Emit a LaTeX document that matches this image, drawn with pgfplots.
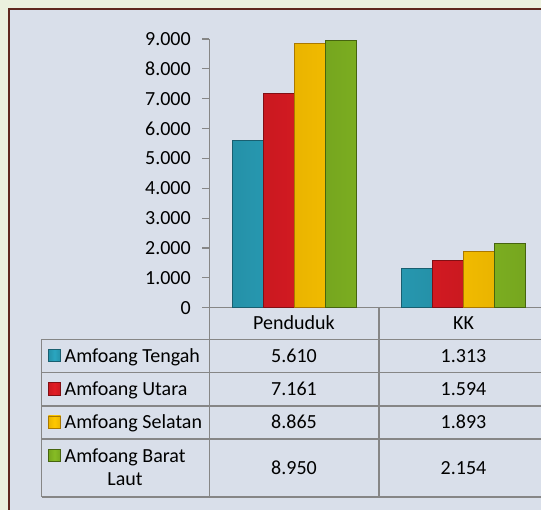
\documentclass[border=0pt]{standalone}
\usepackage{fontspec}
\setmainfont{Carlito}
\usepackage{pgfplots}
\pgfplotsset{compat=1.18}
\definecolor{outerbg}{RGB}{235,241,222}
\definecolor{innerbg}{RGB}{217,223,234}
\definecolor{framebrown}{RGB}{95,40,30}
\definecolor{axisgray}{RGB}{134,134,134}
\definecolor{cblue}{RGB}{42,166,192}
\definecolor{cbluedark}{RGB}{25,95,112}
\definecolor{cred}{RGB}{226,28,36}
\definecolor{creddark}{RGB}{130,15,20}
\definecolor{cyellow}{RGB}{255,200,0}
\definecolor{cyellowdark}{RGB}{170,120,0}
\definecolor{cgreen}{RGB}{134,188,36}
\definecolor{cgreendark}{RGB}{70,100,15}
\newcommand{\tf}{\fontsize{20}{24}\selectfont}
\begin{document}
\begin{tikzpicture}[x=1pt,y=1pt]
\useasboundingbox (0,0) rectangle (541,510);
\clip (0,0) rectangle (541,510);
\fill[outerbg] (0,0) rectangle (541,510);
\draw[draw=framebrown, line width=2pt, fill=innerbg] (9,-20) rectangle (580,500.5);
\begin{axis}[
  at={(209.3pt,202.3pt)}, anchor=south west,
  scale only axis, width=339pt, height=268.7pt,
  xmin=-0.5, xmax=1.5, ymin=0, ymax=9000,
  ybar=0pt, bar width=31pt,
  axis x line=bottom, axis y line=left,
  axis line style={-, draw=axisgray, line width=1.2pt},
  xtick=\empty,
  ytick={0,1000,...,9000},
  tick align=outside, major tick length=7pt,
  tick style={draw=axisgray, line width=1.2pt},
  scaled y ticks=false,
  /pgf/number format/1000 sep={.},
  /pgf/number format/assume math mode=true,
  yticklabel style={font=\tf, text=black, xshift=-8pt},
  clip=false,
]
\addplot[left color=cbluedark!30!cblue, right color=cbluedark!30!cblue, middle color=cblue, draw=cbluedark, line width=0.8pt] coordinates {(0,5610) (1,1313)};
\addplot[left color=creddark!25!cred, right color=creddark!25!cred, middle color=cred, draw=creddark, line width=0.8pt] coordinates {(0,7161) (1,1594)};
\addplot[left color=cyellowdark!25!cyellow, right color=cyellowdark!25!cyellow, middle color=cyellow, draw=cyellowdark, line width=0.8pt] coordinates {(0,8865) (1,1893)};
\addplot[left color=cgreendark!25!cgreen, right color=cgreendark!25!cgreen, middle color=cgreen, draw=cgreendark, line width=0.8pt] coordinates {(0,8950) (1,2154)};
\end{axis}
% data table grid
\begin{scope}[draw=axisgray, line width=1.5pt]
\draw (209.3,202.3) -- (209.3,13);
\draw (378.8,202.3) -- (378.8,13);
\draw (548.3,202.3) -- (548.3,13);
\draw (41.5,170.7) -- (560,170.7);
\draw (41.5,137.7) -- (560,137.7);
\draw (41.5,104) -- (560,104);
\draw (41.5,71) -- (560,71);
\draw (41.5,13) -- (560,13);
\draw (41.5,170.7) -- (41.5,13);
\end{scope}
% header
\node[font=\tf, anchor=base, inner sep=0] at (294,180) {Penduduk};
\node[font=\tf, anchor=base, inner sep=0] at (463.5,180) {KK};
% legend keys
\shade[left color=cbluedark!30!cblue, right color=cbluedark!30!cblue, middle color=cblue, draw=cbluedark, line width=0.6pt] (48.3,148.3) rectangle (60.7,160.7);
\shade[left color=creddark!25!cred, right color=creddark!25!cred, middle color=cred, draw=creddark, line width=0.6pt] (48.3,115) rectangle (60.7,127.4);
\shade[left color=cyellowdark!25!cyellow, right color=cyellowdark!25!cyellow, middle color=cyellow, draw=cyellowdark, line width=0.6pt] (48.3,81.6) rectangle (60.7,94);
\shade[left color=cgreendark!25!cgreen, right color=cgreendark!25!cgreen, middle color=cgreen, draw=cgreendark, line width=0.6pt] (48.3,48.3) rectangle (60.7,60.7);
% row labels
\node[font=\tf, anchor=base west, inner sep=0] at (64.5,147.7) {Amfoang Tengah};
\node[font=\tf, anchor=base west, inner sep=0] at (64.5,114.4) {Amfoang Utara};
\node[font=\tf, anchor=base west, inner sep=0] at (64.5,81) {Amfoang Selatan};
\node[font=\tf, anchor=base west, inner sep=0] at (64.5,47.7) {Amfoang Barat};
\node[font=\tf, anchor=base, inner sep=0] at (125,24.3) {Laut};
% values
\node[font=\tf, anchor=base, inner sep=0] at (294,147.7) {5.610};
\node[font=\tf, anchor=base, inner sep=0] at (463.5,147.7) {1.313};
\node[font=\tf, anchor=base, inner sep=0] at (294,114.4) {7.161};
\node[font=\tf, anchor=base, inner sep=0] at (463.5,114.4) {1.594};
\node[font=\tf, anchor=base, inner sep=0] at (294,81) {8.865};
\node[font=\tf, anchor=base, inner sep=0] at (463.5,81) {1.893};
\node[font=\tf, anchor=base, inner sep=0] at (294,35.5) {8.950};
\node[font=\tf, anchor=base, inner sep=0] at (463.5,35.5) {2.154};
\end{tikzpicture}
\end{document}
